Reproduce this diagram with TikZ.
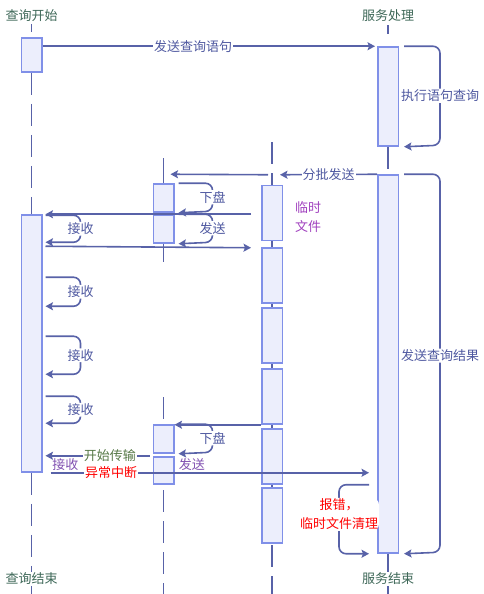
\documentclass[tikz,border=0pt]{standalone}
\usepackage{fontspec}
\newfontfamily\cjk{Noto Sans CJK SC}
\usepackage{xcolor}
\usepackage{tikz}
\usetikzlibrary{calc, arrows.meta}

\definecolor{lineC}{RGB}{88,98,168}
\definecolor{boxD}{RGB}{128,144,232}
\definecolor{boxF}{RGB}{236,238,252}
\definecolor{headC}{RGB}{62,104,88}
\definecolor{msgC}{RGB}{78,88,160}
\definecolor{tmpC}{RGB}{160,64,190}
\definecolor{grnC}{RGB}{85,120,70}
\definecolor{vioC}{RGB}{128,80,176}

\tikzset{
  act/.style={draw=boxD, fill=boxF, line width=1.5pt, minimum width=20.5pt, inner sep=0pt},
  life/.style={draw=lineC, line width=1.6pt, dash pattern=on 22pt off 9pt},
  msg/.style={draw=lineC, line width=1.6pt, -{Stealth[length=7.5pt,width=8pt,inset=1.5pt]}},
  loopmsg/.style={msg, rounded corners=7pt},
  lbl/.style={fill=white, inner sep=1pt, text=msgC, font=\cjk\fontsize{13pt}{19pt}\selectfont},
  head/.style={lbl, text=headC},
}

\begin{document}
\begin{tikzpicture}[x=1pt, y=-1pt]
\useasboundingbox (0,0) rectangle (483,594);
% heads
\node[head] (qTop) at (31.5,16) {查询开始};
\node[head] (sTop) at (388,16) {服务处理};
\node[head] (qEnd) at (31.5,579) {查询结束};
\node[head] (sEnd) at (388,579) {服务结束};
% middle lifelines
\coordinate (pTop) at (163.5,158);
\coordinate (pMid) at (163.5,262);
\coordinate (pRe) at (163.5,397);
\coordinate (pEnd) at (163.5,594);
\coordinate (tTop) at (272,142);
\coordinate (tEnd) at (272,594);
\draw[life, solid] (pTop) -- (pMid);
\draw[life] (pRe) -- (pEnd);
\draw[life] (tTop) -- (tEnd);
% activation boxes
\node[act, minimum height=34pt] (qA) at (31.5,55) {};
\node[act, minimum height=257pt] (qB) at (31.5,343.5) {};
\node[act, minimum height=99pt] (sC) at (388,96.5) {};
\node[act, minimum height=378pt] (sD) at (388,364) {};
\node[act, minimum height=28pt] (pE1) at (163.5,198) {};
\node[act, minimum height=28pt] (pE2) at (163.5,229) {};
\node[act, minimum height=28pt] (pF1) at (163.5,439) {};
\node[act, minimum height=27pt] (pF2) at (163.5,470.5) {};
\foreach \i/\y in {1/213,2/275.5,3/335.5,4/396.5,5/456.5,6/515.5}
  \node[act, minimum height=55pt] (tG\i) at (272,\y) {};
% left and right lifelines
\draw[life, shorten <=1pt, shorten >=5pt] (qTop.south) -- (qA.north);
\draw[life] (qA.south) -- (qB.north);
\draw[life] (qB.south) -- (qEnd.north);
\draw[life] (qEnd.south) -- (31.5,594);
\draw[life, shorten <=2pt, shorten >=12pt] (sTop.south) -- (sC.north);
\draw[life] (sC.south) -- (sD.north);
\draw[life] (sD.south) -- (sEnd.north);
\draw[life] (sEnd.south) -- (388,594);
% messages
\draw[msg, shorten >=2pt] (qA.east |- sC.north) -- node[lbl, pos=0.45]{发送查询语句} (sC.north west);
\draw[loopmsg] ($(sC.north east)+(5,0)$) -- ++(36,0) -- node[lbl]{执行语句查询} ++(0,99) -- ($(sC.south east)+(5,0)$);
\draw[msg] (sD.north west) -- node[lbl]{分批发送} ($(tG1.north)+(8,-10)$);
\draw[msg] ($(tG1.north)+(-4,-10)$) -- ($(pE1.north)+(7,-9)$);
\draw[loopmsg] ($(sD.north east)+(5,0)$) -- ++(36,0) -- node[lbl, pos=0.48]{发送查询结果} ++(0,378) -- ($(sD.south east)+(5,0)$);
\draw[loopmsg] ($(pE1.north east)+(4,0)$) -- ++(34,0) -- node[lbl]{下盘} ++(0,28) -- ($(pE1.south east)+(4,0)$);
\draw[msg] ($(tG1.west |- pE2.north)+(-10,0)$) -- ($(qB.north east)+(3,0)$);
\draw[loopmsg] ($(qB.north east)+(3,1)$) -- ++(35,0) -- node[lbl]{接收} ++(0,27) -- ($(qB.north east)+(3,28)$);
\draw[loopmsg] ($(pE2.north east)+(4,0)$) -- ++(34,0) -- node[lbl]{发送} ++(0,28) -- ($(pE2.south east)+(4,0)$);
\draw[msg] ($(qB.north east)+(3,32)$) -- ($(tG1.west |- pE2.south)+(-10,4)$);
\foreach \dy/\h in {63/29,122/38,182/27}
  \draw[loopmsg] ($(qB.north east)+(3,\dy)$) -- ++(35,0) -- node[lbl]{接收} ++(0,\h) -- ++(-35,0);
\draw[msg] (tG4.south west) -- (tG4.south west -| pF1.east);
\draw[loopmsg] ($(pF1.north east)+(4,0)$) -- ++(34,0) -- node[lbl]{下盘} ++(0,28) -- ($(pF1.south east)+(4,0)$);
\draw[msg] ($(pF1.south west)+(-3,2)$) -- node[lbl, text=grnC, pos=0.38]{开始传输} ($(qB.east |- pF1.south)+(3,2)$);
\draw[msg] ($(qB.south east)+(8,0)$) -- node[lbl, text=red, pos=0.19]{异常中断}
  node[lbl, fill=none, text=vioC, anchor=south, pos=0.047]{接收}
  node[lbl, fill=none, text=vioC, anchor=south, pos=0.444]{发送} ($(qB.south east -| sD.west)+(-8,0)$);
\draw[loopmsg] ($(sD.south west)+(-8,-69)$) -- ++(-30,0) -- node[lbl, text=red, align=center, pos=0.43]{报错，\\临时文件清理} ++(0,69) -- ($(sD.south west)+(-8,0)$);
% note
\node[lbl, fill=none, text=tmpC, align=left, anchor=west] (tNote) at (294,217.5) {临时\\文件};
\end{tikzpicture}
\end{document}
